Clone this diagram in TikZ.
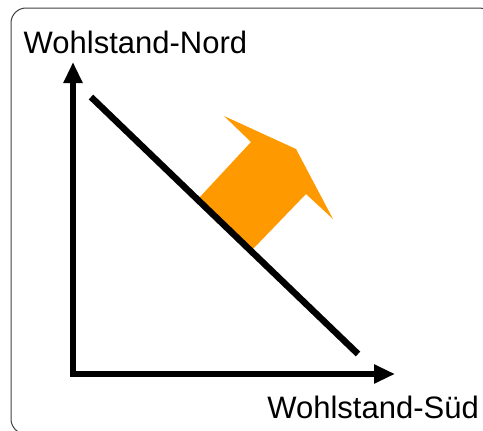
\documentclass[tikz,border=0pt]{standalone}
\usepackage{fontspec}
\setmainfont{Liberation Sans}
\usetikzlibrary{arrows.meta}
\definecolor{arroworange}{HTML}{FF9900}
\tikzset{
  axis/.style={line width=6.5pt, line join=miter, -{Triangle[length=21pt,width=18pt]}},
  budget/.style={line width=6.5pt},
  label/.style={inner sep=0pt, font=\fontsize{31}{37}\selectfont},
  frame/.style={draw=black!75, line width=1pt, rounded corners=15pt}
}
\begin{document}
\begin{tikzpicture}[x=1pt,y=-1pt]
\useasboundingbox (0,0) rectangle (483,431);
\clip (0,0) rectangle (483,431);
\draw[frame] (11,8) rectangle (494,434);
% orange arrow
\fill[arroworange] (199,198) -- (253,249) -- (306,194) -- (333,219) -- (296,149) -- (224,116) -- (251,142) -- cycle;
% axes
\coordinate (O) at (73,374);
\coordinate (Ytip) at (73,62);
\coordinate (Xtip) at (395,374);
\draw[axis] (O) -- (Ytip);
\draw[axis] (O) -- (Xtip);
\fill (69.75,370.75) rectangle (76.25,377.25);
% budget line
\coordinate (A) at (91,97);
\coordinate (B) at (358,354);
\draw[budget] (A) -- (B);
% labels
\node[label, anchor=base west] (north) at (23.5,53) {Wohlstand-Nord};
\node[label, anchor=base east] (south) at (479,418) {Wohlstand-Süd};
\end{tikzpicture}
\end{document}
